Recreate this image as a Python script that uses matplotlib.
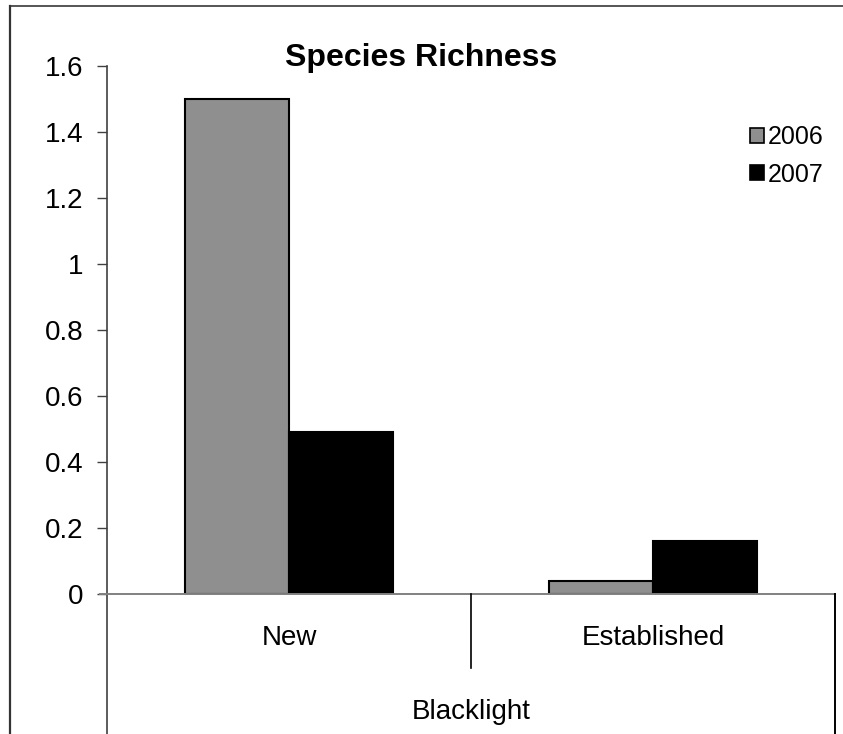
import matplotlib
matplotlib.use("Agg")
import matplotlib.pyplot as plt
from matplotlib.lines import Line2D
from matplotlib.patches import Patch
from matplotlib.ticker import FuncFormatter

plt.rcParams['font.family'] = ['Liberation Sans', 'DejaVu Sans']

# Data
title = "Species Richness"
group_label = "Blacklight"
categories = ["New", "Established"]
series_names = ["2006", "2007"]
values_2006 = [1.5, 0.04]
values_2007 = [0.49, 0.16]
y_ticks = [0, 0.2, 0.4, 0.6, 0.8, 1.0, 1.2, 1.4, 1.6]

W, H = 843, 734
fig = plt.figure(figsize=(W / 100, H / 100), dpi=100)


def fx(x):
    return x / W


def fy(y):
    return 1 - y / H


x_left, x_right, y_top, y_zero = 107, 835, 66, 594
ax = fig.add_axes([fx(x_left), fy(y_zero), fx(x_right - x_left), (y_zero - y_top) / H])

bar_w = 1 / 3.5
pos = list(range(len(categories)))
ax.bar([p - bar_w / 2 for p in pos], values_2006, width=bar_w, color="#8f8f8f",
       edgecolor="black", linewidth=1.5, label=series_names[0], zorder=3)
ax.bar([p + bar_w / 2 for p in pos], values_2007, width=bar_w, color="black",
       edgecolor="black", linewidth=1.5, label=series_names[1], zorder=3)

ax.set_xlim(-0.5, len(categories) - 0.5)
ax.set_ylim(y_ticks[0], y_ticks[-1])
ax.set_yticks(y_ticks)
ax.yaxis.set_major_formatter(FuncFormatter(lambda v, _: f"{v:g}"))
ax.set_xticks([])
ax.tick_params(axis="y", direction="out", length=7, width=1, color="#404040",
               pad=10, labelsize=20)
for s in ax.spines.values():
    s.set_visible(False)
ax.patch.set_alpha(0)


def hline(x0, x1, y, color="#808080", lw=1.2):
    fig.add_artist(Line2D([fx(x0), fx(x1)], [fy(y), fy(y)], color=color, lw=lw))


def vline(x, y0, y1, color="black", lw=1.2):
    fig.add_artist(Line2D([fx(x), fx(x)], [fy(y0), fy(y1)], color=color, lw=lw))


# Outer chart frame
hline(10, W + 5, 6, color="#555555", lw=1.4)
vline(10, 6, H + 5, color="#333333", lw=1.6)

# Value axis and multi-level category axis lines
vline(x_left, y_top, H + 5, color="#404040", lw=1.2)
hline(100, x_right, y_zero, color="#808080", lw=1.4)
vline((x_left + x_right) / 2, y_zero, 668, color="black", lw=1.2)
vline(x_right, y_zero, H + 5, color="black", lw=1.4)

# Category and group labels
for p, cat in zip(pos, categories):
    xc = x_left + (x_right - x_left) * (p + 0.5) / len(categories)
    fig.text(fx(xc), fy(638), cat, ha="center", va="center", fontsize=20)
fig.text(fx((x_left + x_right) / 2), fy(712), group_label, ha="center", va="center", fontsize=20)

fig.text(fx(421), fy(58), title, ha="center", va="center", fontsize=23, fontweight="bold")

handles = [Patch(facecolor="#8f8f8f", edgecolor="black", linewidth=1.2),
           Patch(facecolor="black", edgecolor="black", linewidth=1.2)]
fig.legend(handles, series_names, loc="upper left", bbox_to_anchor=(fx(750), fy(125)),
           frameon=False, fontsize=18, handlelength=0.55, handleheight=0.55,
           handletextpad=0.15, labelspacing=0.55, borderpad=0, borderaxespad=0)

fig.savefig("out.png", dpi=100)
